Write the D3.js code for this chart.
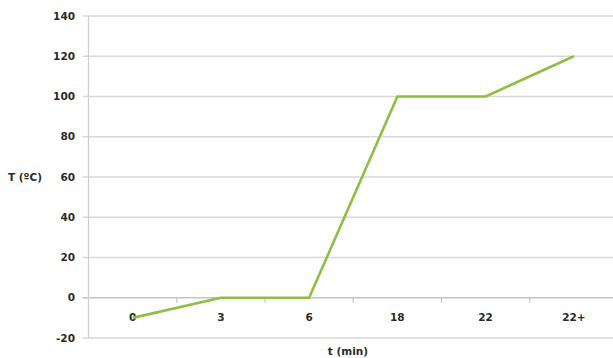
<!DOCTYPE html>
<html><head><meta charset="utf-8">
<script src="https://cdn.jsdelivr.net/npm/d3@7"></script>
<style>
body{margin:0;background:#fff;}
text{font-family:"DejaVu Sans",sans-serif;font-weight:700;fill:#2a2a2a;}
</style></head>
<body><svg id="c" width="613" height="358"></svg>
<script>
const categories = ["0","3","6","18","22","22+"];
const temps = [-10, 0, 0, 100, 100, 120];
const yTicks = [-20,0,20,40,60,80,100,120,140];

const svg = d3.select("#c");
const x = d3.scaleBand().domain(categories).range([88.5, 618]);
const y = d3.scaleLinear().domain([-20,140]).range([338,16]);
const left = 88.5, right = 618;

// gridlines
svg.append("g").selectAll("line").data(yTicks).join("line")
  .attr("x1", left-6).attr("x2", right)
  .attr("y1", d=>y(d)).attr("y2", d=>y(d))
  .attr("stroke", d=>d===0 ? "#c4c4c4" : "#d9d9d9").attr("stroke-width", 1.3);

// y axis line
svg.append("line").attr("x1",left).attr("x2",left).attr("y1",y(140)).attr("y2",y(-20))
  .attr("stroke","#d0d0d0").attr("stroke-width",1.3);

// y tick labels
svg.append("g").selectAll("text").data(yTicks).join("text")
  .attr("x", 75).attr("y", d=>y(d)).attr("dy","0.35em")
  .attr("text-anchor","end").attr("font-size",10.5).text(d=>d);

// x category tick marks on zero line
const bounds = categories.slice(1).map(c=>x(c));
svg.append("g").selectAll("line").data(bounds).join("line")
  .attr("x1",d=>d).attr("x2",d=>d).attr("y1",y(0)).attr("y2",y(0)+5)
  .attr("stroke","#c4c4c4").attr("stroke-width",1.2);

// x labels
svg.append("g").selectAll("text").data(categories).join("text")
  .attr("x", d=>x(d)+x.bandwidth()/2).attr("y", 317).attr("dy","0.35em")
  .attr("text-anchor","middle").attr("font-size",10.5).text(d=>d);

// line
const line = d3.line().x((d,i)=>x(categories[i])+x.bandwidth()/2).y(d=>y(d));
svg.append("path").datum(temps).attr("d", line)
  .attr("fill","none").attr("stroke","#8dbf45").attr("stroke-width",2.6)
  .attr("stroke-linejoin","round");

// axis titles
svg.append("text").attr("x",348).attr("y",351).attr("dy","0.35em")
  .attr("text-anchor","middle").attr("font-size",10.5).text("t (min)");
svg.append("text").attr("x",8).attr("y",y(60)).attr("dy","0.35em")
  .attr("font-size",10.5).text("T (ºC)");
</script></body></html>
